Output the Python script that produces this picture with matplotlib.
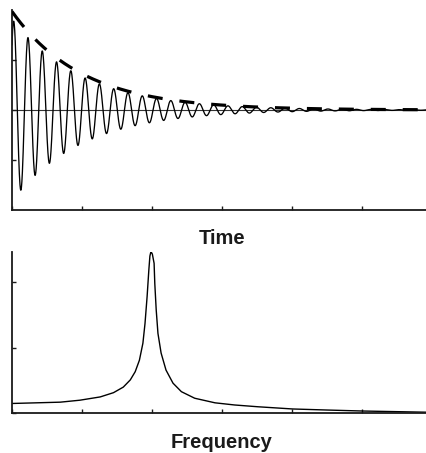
import numpy as np
import matplotlib.pyplot as plt

# ---- values ----
# upper panel: a decaying cosine (time signal)
fid_amplitude = 1.82        # height of the first peak
fid_envelope_start = 1.97   # where the dashed envelope starts at t=0
fid_decay = 1.0             # decay rate, 1/e per time unit
fid_frequency = 4.9         # cycles per time unit
fid_first_peak = 0.025      # time of the first maximum

# lower panel: the spectrum, read point by point
freq = [0.0, 0.35, 0.69, 0.97, 1.26, 1.45, 1.59, 1.69, 1.76, 1.82, 1.87,
        1.90, 1.93, 1.955, 1.97, 1.985, 2.005, 2.03, 2.04, 2.06, 2.085,
        2.13, 2.20, 2.30, 2.42, 2.61, 2.90, 3.18, 3.51, 4.01, 4.5, 5.0, 5.5, 6.0]
spectrum = [0.15, 0.16, 0.17, 0.20, 0.25, 0.315, 0.40, 0.51, 0.635, 0.81, 1.07,
            1.37, 1.78, 2.19, 2.40, 2.47, 2.43, 2.29, 1.98, 1.58, 1.22,
            0.92, 0.66, 0.46, 0.33, 0.23, 0.16, 0.127, 0.10, 0.066, 0.05, 0.035, 0.025, 0.015]

x_ticks = [0, 1, 2, 3, 4, 5, 6]
time_yticks = [-1, 0, 1]
freq_yticks = [0, 1, 2]


def style_axes(ax):
    for side in ['top', 'right']:
        ax.spines[side].set_visible(False)
    for side in ['left', 'bottom']:
        ax.spines[side].set_linewidth(1.3)
        ax.spines[side].set_color('#1a1a1a')
    ax.tick_params(direction='in', length=3, width=1.0, color='#1a1a1a',
                   labelleft=False, labelbottom=False)
    ax.set_xticks(x_ticks)
    ax.set_xlim(0, 6)


def main():
    plt.rcParams['font.family'] = ['Liberation Sans', 'DejaVu Sans']
    plt.rcParams['lines.scale_dashes'] = False

    fig = plt.figure(figsize=(4.27, 4.53), dpi=100)
    W, H = 427, 453

    # axes placed in pixel terms; right edge runs past the figure like the original
    ax1 = fig.add_axes([12 / W, (H - 210) / H, 420 / W, 200 / H])
    ax2 = fig.add_axes([12 / W, (H - 413.3) / H, 420 / W, 161.8 / H])

    # time signal
    t = np.linspace(0, 6, 4000)
    envelope = np.exp(-fid_decay * t)
    signal = fid_amplitude * envelope * np.cos(2 * np.pi * fid_frequency * (t - fid_first_peak))

    # first dash of the envelope is a bit longer than the rest
    dashes = [14.1, 12.2] + [10.8, 12.2] * 20

    ax1.axhline(0, color='#333333', lw=0.8, zorder=1)
    ax1.plot(t, signal, color='black', lw=0.95, zorder=2)
    ax1.plot(t, fid_envelope_start * envelope, color='black', lw=2.3,
             linestyle=(0, dashes), dash_capstyle='butt', zorder=3)
    ax1.set_ylim(-2, 2)
    ax1.set_yticks(time_yticks)
    style_axes(ax1)
    ax1.set_xlabel('Time', fontsize=14.5, fontweight='bold', color='#1a1a1a', labelpad=14)

    # spectrum
    ax2.plot(freq, spectrum, color='black', lw=1.0)
    ax2.set_ylim(0, 2.47)
    ax2.set_yticks(freq_yticks)
    style_axes(ax2)
    ax2.set_xlabel('Frequency', fontsize=14.5, fontweight='bold', color='#1a1a1a', labelpad=14)

    fig.savefig('out.png', dpi=100)


if __name__ == '__main__':
    main()
